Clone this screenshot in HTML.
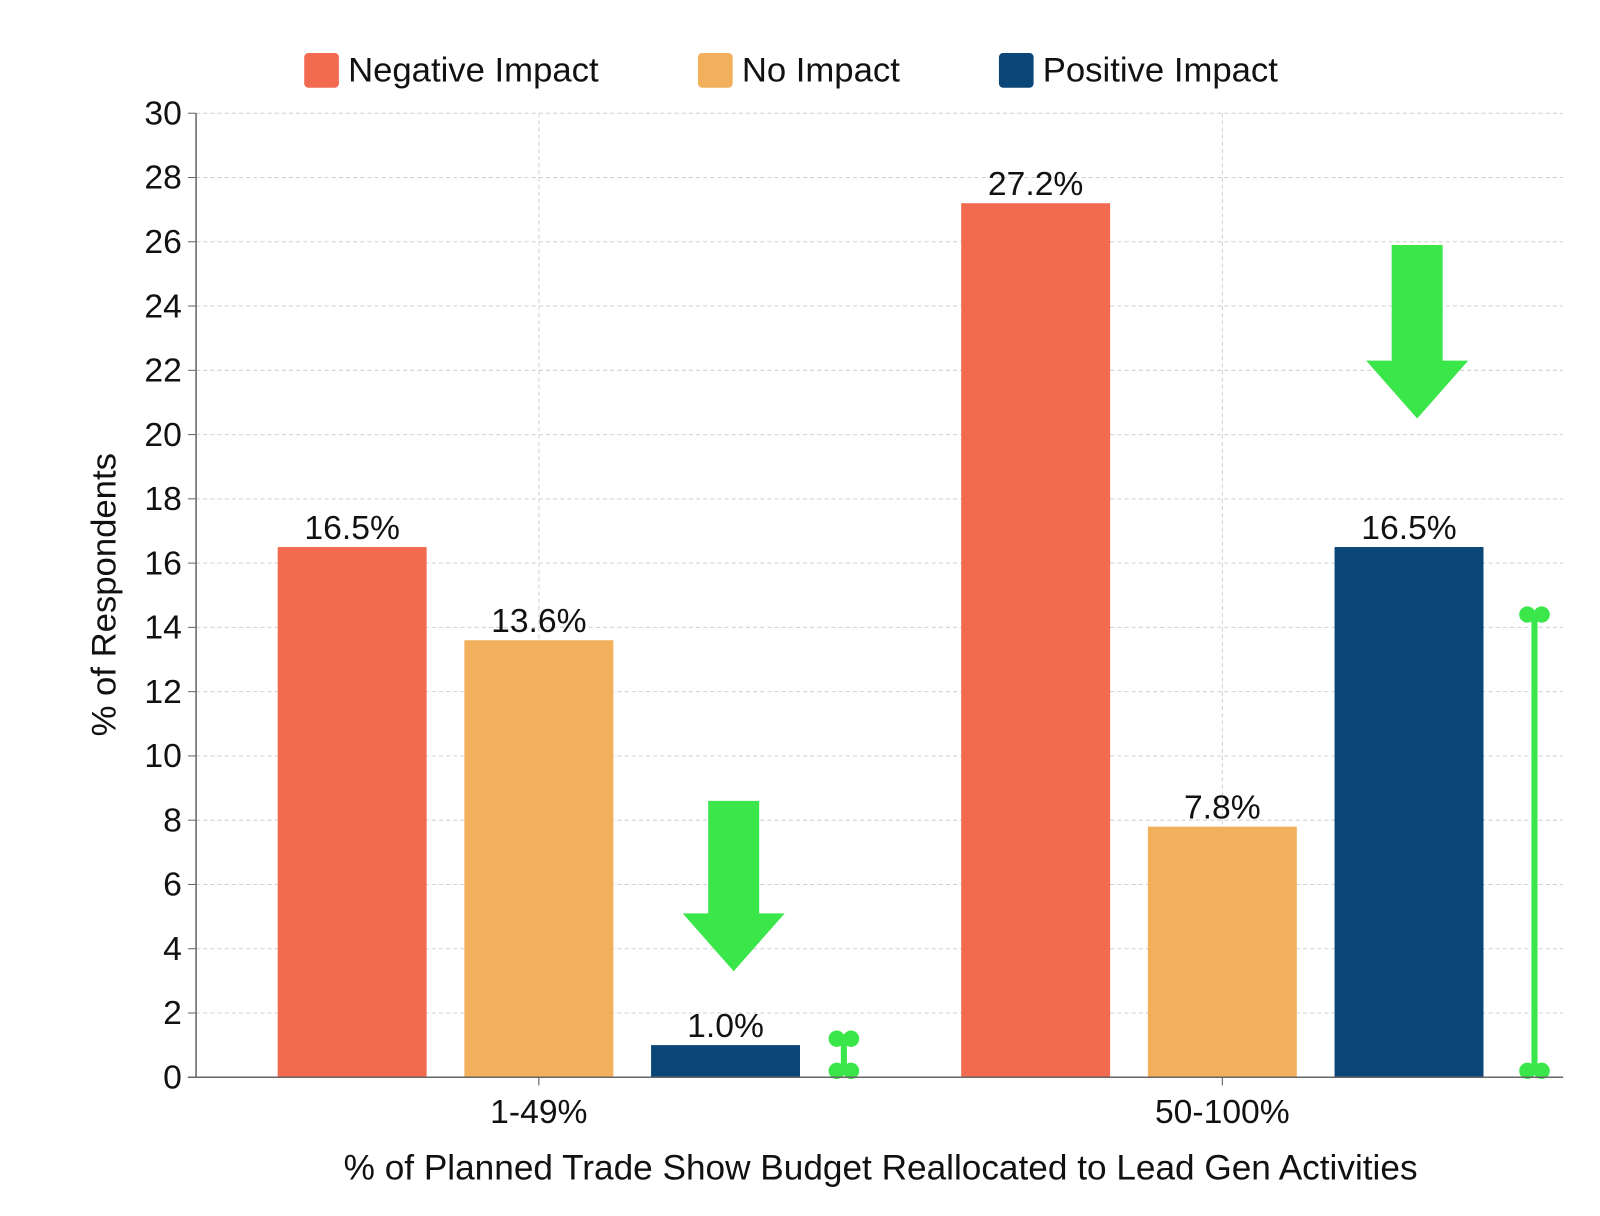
<!DOCTYPE html>
<html><head><meta charset="utf-8"><style>
body{margin:0;background:#fff;}
svg{display:block;}
svg text{font-family:"Liberation Sans",Arial,sans-serif;fill:#111;}
</style></head><body>
<svg id="chart" width="1600" height="1216" viewBox="0 0 1568 1192" xmlns="http://www.w3.org/2000/svg">
<g id="grid"></g><g id="bars"></g><g id="labels"></g><g id="annot"></g><g id="axes"></g><g id="legend"></g>
</svg>
<script>
const categories=["1-49%","50-100%"];
const seriesNames=["Negative Impact","No Impact","Positive Impact"];
const negativeVals=[16.5,27.2];
const noImpactVals=[13.6,7.8];
const positiveVals=[1.0,16.5];
const yTicks=[0,2,4,6,8,10,12,14,16,18,20,22,24,26,28,30];
const arrowTop=[8.6,25.9];
const arrowHeadTop=[5.1,22.3];
const arrowTip=[3.3,20.5];
const rangeLow=[0.2,0.2];
const rangeHigh=[1.2,14.4];
const colors=["#F26B50","#F2AF5C","#0A4678"];
const NS="http://www.w3.org/2000/svg";
const X0=192,X1=1532,Y0=1056,Y1=111;
const y=v=>Y0-(v/30)*(Y0-Y1);
const groupCenter=i=>528+i*670;
const barW=146,step=183;
const barX=(g,s)=>groupCenter(g)-barW/2+(s-1)*step;
const rangeOffset=[43,50];
function mk(tag,attrs,parent,text){const e=document.createElementNS(NS,tag);for(const k in attrs)e.setAttribute(k,attrs[k]);if(text!==undefined)e.textContent=text;document.getElementById(parent).appendChild(e);return e;}
yTicks.forEach(t=>{
 const l=mk('line',{x1:X0,x2:X1,y1:y(t),y2:y(t),stroke:'#d0d0d0','stroke-dasharray':'4,3'},'grid');
 
 
 const tk=mk('line',{x1:X0-8,x2:X0,y1:y(t),y2:y(t),stroke:'#666'},'axes');
 
 
 const tx=mk('text',{x:178,y:y(t)+11,'text-anchor':'end','font-size':33},'axes',String(t));
 
 
});
categories.forEach((c,i)=>{
 const l=mk('line',{x1:groupCenter(i),x2:groupCenter(i),y1:Y1,y2:Y0,stroke:'#d0d0d0','stroke-dasharray':'4,3'},'grid');
 
 
 const tk=mk('line',{x1:groupCenter(i),x2:groupCenter(i),y1:Y0,y2:Y0+8,stroke:'#555'},'axes');
 
 
 const tx=mk('text',{x:groupCenter(i),y:1101,'text-anchor':'middle','font-size':33},'axes',c);
 
 
});
const yl=mk('line',{x1:X0,x2:X0,y1:Y1,y2:Y0,stroke:'#666','stroke-width':1.5},'axes');


const xl=mk('line',{x1:X0-8,x2:X1,y1:Y0,y2:Y0,stroke:'#666','stroke-width':1.5},'axes');


const yt=mk('text',{x:0,y:0,transform:'translate(113,583) rotate(-90)','text-anchor':'middle','font-size':34},'axes','% of Respondents');


const xt=mk('text',{x:863,y:1156,'text-anchor':'middle','font-size':34.5},'axes','% of Planned Trade Show Budget Reallocated to Lead Gen Activities');


[negativeVals,noImpactVals,positiveVals].forEach((vals,s)=>{
 vals.forEach((v,g)=>{
  const r=mk('rect',{x:barX(g,s),y:y(v),width:barW,height:Y0-y(v),fill:colors[s]},'bars');
  
  
  const t=mk('text',{x:barX(g,s)+barW/2,y:y(v)-8,'text-anchor':'middle','font-size':33},'labels',v.toFixed(1)+'%');
  
  
 });
});
categories.forEach((c,g)=>{
 const cx=barX(g,2)+barW/2+8;
 const a=mk('polygon',{points:`${cx-25},${y(arrowTop[g])} ${cx+25},${y(arrowTop[g])} ${cx+25},${y(arrowHeadTop[g])} ${cx+50},${y(arrowHeadTop[g])} ${cx},${y(arrowTip[g])} ${cx-50},${y(arrowHeadTop[g])} ${cx-25},${y(arrowHeadTop[g])}`,fill:'#3BE64A'},'annot');
 
 
 const dx=barX(g,2)+barW+rangeOffset[g];
 const ln=mk('line',{x1:dx,x2:dx,y1:y(rangeLow[g]),y2:y(rangeHigh[g]),stroke:'#3BE64A','stroke-width':6},'annot');
 
 
 [rangeLow[g],rangeHigh[g]].forEach(v=>{[-7,7].forEach(o=>{
  const ci=mk('circle',{cx:dx+o,cy:y(v),r:8,fill:'#3BE64A'},'annot');
  
  
 });});
});
const legX=[298,684,979];
seriesNames.forEach((n,i)=>{
 const r=mk('rect',{x:legX[i],y:52,width:34,height:34,rx:4,fill:colors[i]},'legend');
 
 
 const t=mk('text',{x:legX[i]+43,y:80,'font-size':34},'legend',n);
 
 
});
</script>
</body></html>
